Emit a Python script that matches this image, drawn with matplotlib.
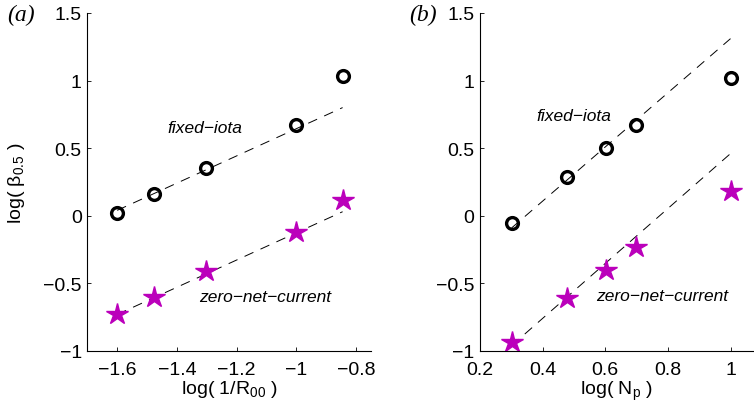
import matplotlib
matplotlib.use('Agg')
import matplotlib.pyplot as plt

# panel (a): log(1/R00)
x_a = [-1.6, -1.477, -1.301, -1.0, -0.845]
fixed_a = [0.02, 0.16, 0.35, 0.67, 1.03]
zero_a = [-0.73, -0.60, -0.41, -0.12, 0.12]
fit_x_a = [-1.6, -0.845]
fit_fixed_a = [0.04, 0.80]
fit_zero_a = [-0.73, 0.03]

# panel (b): log(Np)
x_b = [0.301, 0.477, 0.602, 0.699, 1.0]
fixed_b = [-0.05, 0.29, 0.50, 0.67, 1.02]
zero_b = [-0.93, -0.61, -0.40, -0.23, 0.18]
fit_x_b = [0.301, 1.0]
fit_fixed_b = [-0.09, 1.31]
fit_zero_b = [-0.96, 0.46]

plt.rcParams['font.family'] = ['Liberation Sans', 'DejaVu Sans']
plt.rcParams['font.size'] = 14
plt.rcParams['mathtext.fontset'] = 'custom'
plt.rcParams['mathtext.rm'] = 'Liberation Sans'
plt.rcParams['mathtext.it'] = 'Liberation Sans:italic'

star_col = '#bb00bb'
tick_fs = 14

fig = plt.figure(figsize=(7.54, 4.10), dpi=100)
ax1 = fig.add_axes([0.1158, 0.1415, 0.3762, 0.8245])
ax2 = fig.add_axes([0.6366, 0.1415, 0.3634, 0.8245])


def draw(ax, x, fixed, zero, fx, ff, fz):
    ax.plot(fx, ff, color='k', lw=0.7, dashes=(10, 8))
    ax.plot(fx, fz, color='k', lw=0.7, dashes=(10, 8))
    ax.plot(x, fixed, 'o', ms=8.5, mfc='none', mec='k', mew=2.4, ls='none')
    ax.plot(x, zero, '*', ms=16, mfc=star_col, mec=star_col, ls='none')
    ax.set_ylim(-1, 1.5)
    ax.set_yticks([-1, -0.5, 0, 0.5, 1, 1.5])
    ax.set_yticklabels(['\u22121', '\u22120.5', '0', '0.5', '1', '1.5'], fontsize=tick_fs)
    ax.spines['top'].set_visible(False)
    ax.spines['right'].set_visible(False)
    ax.tick_params(direction='in', length=3, width=0.6)
    ax.tick_params(axis='y', pad=4)
    ax.tick_params(axis='x', pad=7.5)
    for s in ax.spines.values():
        s.set_linewidth(0.8)


draw(ax1, x_a, fixed_a, zero_a, fit_x_a, fit_fixed_a, fit_zero_a)
ax1.set_xlim(-1.7, -0.75)
ax1.set_xticks([-1.6, -1.4, -1.2, -1, -0.8])
ax1.set_xticklabels(['\u22121.6', '\u22121.4', '\u22121.2', '\u22121', '\u22120.8'], fontsize=tick_fs)
ax1.set_xlabel(r'log( 1/R$_{00}$ )', fontsize=14, labelpad=0)
ax1.set_ylabel(r'log( β$_{0.5}$ )', fontsize=14, labelpad=12)
ax1.text(-1.305, 0.65, 'fixed\u2212iota', style='italic', fontsize=12.5, ha='center', va='center')
ax1.text(-1.104, -0.60, 'zero\u2212net\u2212current', style='italic', fontsize=12.5, ha='center', va='center')

draw(ax2, x_b, fixed_b, zero_b, fit_x_b, fit_fixed_b, fit_zero_b)
ax2.set_xlim(0.2, 1.075)
ax2.set_xticks([0.2, 0.4, 0.6, 0.8, 1])
ax2.set_xticklabels(['0.2', '0.4', '0.6', '0.8', '1'], fontsize=tick_fs)
ax2.set_xlabel(r'log( N$_{\rm p}$ )', fontsize=14, labelpad=0)
ax2.text(0.50, 0.74, 'fixed\u2212iota', style='italic', fontsize=12.5, ha='center', va='center')
ax2.text(0.782, -0.586, 'zero\u2212net\u2212current', style='italic', fontsize=12.5, ha='center', va='center')

fig.text(0.028, 0.963, '(a)', family='Liberation Serif', style='italic', fontsize=17, ha='center', va='center')
fig.text(0.561, 0.963, '(b)', family='Liberation Serif', style='italic', fontsize=17, ha='center', va='center')

fig.savefig('out.png', dpi=100)
